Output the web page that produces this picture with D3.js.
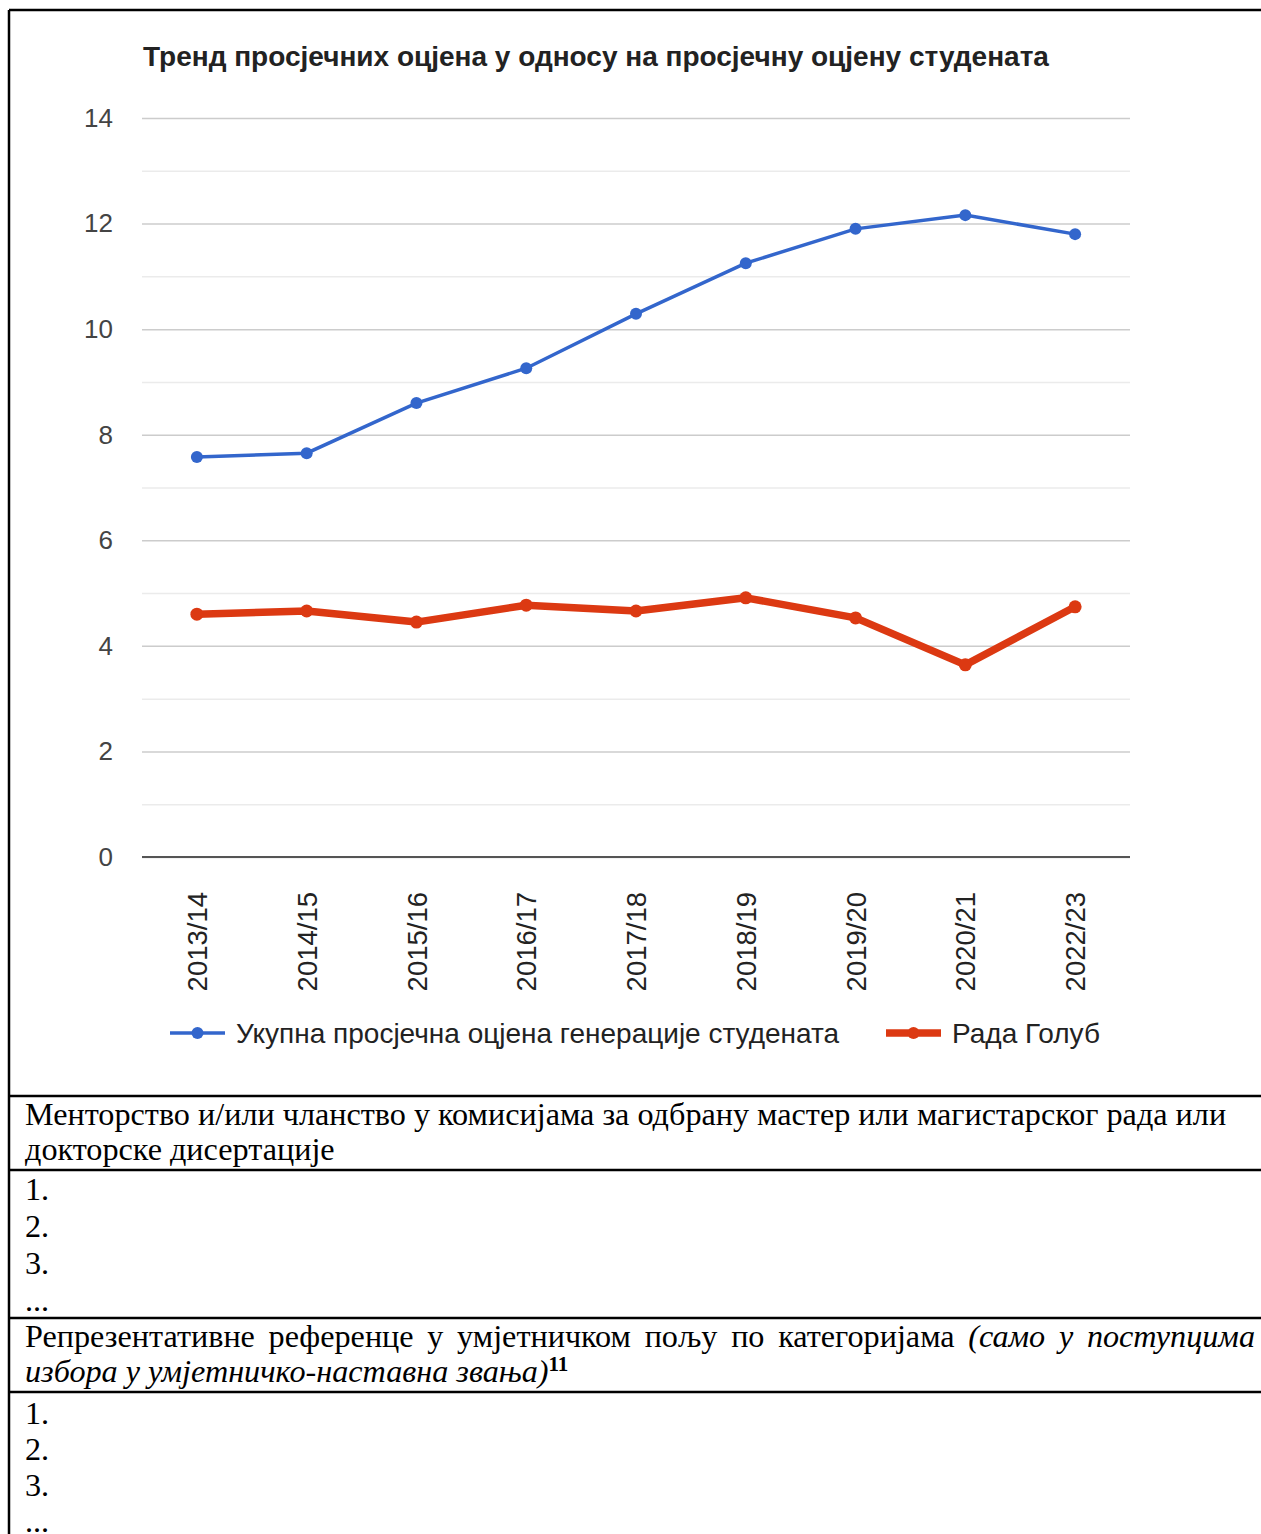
<!DOCTYPE html>
<html>
<head>
<meta charset="utf-8">
<script src="https://cdn.jsdelivr.net/npm/d3@7"></script>
<style>
  body { margin: 0; background: #fff; }
  svg { display: block; }
</style>
</head>
<body>
<script>
// chart values
var seasons = ["2013/14", "2014/15", "2015/16", "2016/17", "2017/18", "2018/19", "2019/20", "2020/21", "2022/23"];
var generationAvg = [7.58, 7.65, 8.60, 9.26, 10.29, 11.25, 11.90, 12.16, 11.80];
var radaGolub = [4.60, 4.66, 4.45, 4.77, 4.66, 4.91, 4.53, 3.64, 4.74];
var majorTicks = [0, 2, 4, 6, 8, 10, 12, 14];
var minorTicks = [1, 3, 5, 7, 9, 11, 13];

var chartTitle = "Тренд просјечних оцјена у односу на просјечну оцјену студената";
var seriesNames = ["Укупна просјечна оцјена генерације студената", "Рада Голуб"];

var svgWidth = 1261;
var svgHeight = 1534;

var svg = d3.select("body")
  .append("svg")
  .attr("width", svgWidth)
  .attr("height", svgHeight);

// plot area
var plot = { left: 142, right: 1130, top: 118, bottom: 857 };

var xScale = d3.scalePoint()
  .domain(seasons)
  .range([plot.left, plot.right])
  .padding(0.5);

var yScale = d3.scaleLinear()
  .domain([0, 14])
  .range([plot.bottom, plot.top]);

var sans = "'Liberation Sans', Arial, sans-serif";
var serif = "'Liberation Serif', 'Times New Roman', serif";

// title
svg.append("text")
  .attr("x", 143)
  .attr("y", 66)
  .attr("font-family", sans)
  .attr("font-weight", "bold")
  .attr("font-size", 28)
  .attr("fill", "#222")
  .text(chartTitle);

// minor gridlines
svg.append("g")
  .attr("transform", "translate(" + plot.left + ",0)")
  .call(d3.axisLeft(yScale).tickValues(minorTicks).tickSize(-(plot.right - plot.left)).tickFormat(""))
  .call(g => g.select(".domain").remove())
  .call(g => g.selectAll("line").attr("stroke", "#ebebeb").attr("stroke-width", 1.5));

// major gridlines + labels
svg.append("g")
  .attr("transform", "translate(" + plot.left + ",0)")
  .call(d3.axisLeft(yScale).tickValues(majorTicks).tickSize(-(plot.right - plot.left)).tickPadding(29))
  .call(g => g.select(".domain").remove())
  .call(g => g.selectAll("line").attr("stroke", "#cccccc").attr("stroke-width", 1.5))
  .call(g => g.selectAll("text")
    .attr("font-family", sans)
    .attr("font-size", 26)
    .attr("fill", "#444"));

// baseline
svg.append("line")
  .attr("x1", plot.left).attr("x2", plot.right)
  .attr("y1", yScale(0)).attr("y2", yScale(0))
  .attr("stroke", "#555").attr("stroke-width", 2);

// x axis labels, rotated
svg.append("g")
  .attr("transform", "translate(0," + plot.bottom + ")")
  .call(d3.axisBottom(xScale).tickSize(0))
  .call(g => g.select(".domain").remove())
  .call(g => g.selectAll("text")
    .attr("font-family", sans)
    .attr("font-size", 27.5)
    .attr("fill", "#222")
    .attr("text-anchor", "end")
    .attr("dy", "0.35em")
    .attr("transform", "translate(0,35) rotate(-90)")
    .attr("y", 0)
    .attr("x", 0));

var lineGen = d3.line()
  .x((d, i) => xScale(seasons[i]))
  .y(d => yScale(d));

// blue series
svg.append("path")
  .datum(generationAvg)
  .attr("fill", "none")
  .attr("stroke", "#3366cc")
  .attr("stroke-width", 3.5)
  .attr("d", lineGen);

svg.append("g").selectAll("circle")
  .data(generationAvg).enter()
  .append("circle")
  .attr("cx", (d, i) => xScale(seasons[i]))
  .attr("cy", d => yScale(d))
  .attr("r", 6)
  .attr("fill", "#3366cc");

// red series
svg.append("path")
  .datum(radaGolub)
  .attr("fill", "none")
  .attr("stroke", "#dc3912")
  .attr("stroke-width", 7.5)
  .attr("stroke-linejoin", "round")
  .attr("d", lineGen);

svg.append("g").selectAll("circle")
  .data(radaGolub).enter()
  .append("circle")
  .attr("cx", (d, i) => xScale(seasons[i]))
  .attr("cy", d => yScale(d))
  .attr("r", 6.5)
  .attr("fill", "#dc3912");

// legend
var legendY = 1033;
var legendItems = [
  { x: 170, color: "#3366cc", width: 3.5, name: seriesNames[0] },
  { x: 886, color: "#dc3912", width: 7.5, name: seriesNames[1] }
];
var legend = svg.append("g").selectAll("g")
  .data(legendItems).enter()
  .append("g")
  .attr("transform", d => "translate(" + d.x + "," + legendY + ")");
legend.append("line")
  .attr("x1", 0).attr("x2", 55)
  .attr("stroke", d => d.color)
  .attr("stroke-width", d => d.width);
legend.append("circle")
  .attr("cx", 27.5)
  .attr("r", 6)
  .attr("fill", d => d.color);
legend.append("text")
  .attr("x", 66)
  .attr("dy", "0.35em")
  .attr("font-family", sans)
  .attr("font-size", 28)
  .attr("fill", "#222")
  .text(d => d.name);

// document table around the chart
var borderColor = "#000";
svg.append("line").attr("x1", 9).attr("x2", svgWidth).attr("y1", 10).attr("y2", 10)
  .attr("stroke", borderColor).attr("stroke-width", 2.5);
svg.append("line").attr("x1", 9).attr("x2", 9).attr("y1", 10).attr("y2", svgHeight)
  .attr("stroke", borderColor).attr("stroke-width", 2.5);
[1096, 1170, 1318, 1392].forEach(function(y) {
  svg.append("line").attr("x1", 9).attr("x2", svgWidth).attr("y1", y).attr("y2", y)
    .attr("stroke", borderColor).attr("stroke-width", 2.5);
});

var mentorHeading = [
  "Менторство и/или чланство у комисијама за одбрану мастер или магистарског рада или",
  "докторске дисертације"
];
var listItems = ["1.", "2.", "3.", "..."];

var tableText = svg.append("g")
  .attr("font-family", serif)
  .attr("font-size", 32.2)
  .attr("fill", "#000");

mentorHeading.forEach(function(t, i) {
  tableText.append("text").attr("x", 25).attr("y", 1125 + i * 35).text(t);
});
listItems.forEach(function(t, i) {
  tableText.append("text").attr("x", 25).attr("y", 1200 + i * 37).text(t);
});

// justified first line of the second heading
var artWords = [
  { t: "Репрезентативне", italic: false },
  { t: "референце", italic: false },
  { t: "у", italic: false },
  { t: "умјетничком", italic: false },
  { t: "пољу", italic: false },
  { t: "по", italic: false },
  { t: "категоријама", italic: false },
  { t: "(само", italic: true },
  { t: "у", italic: true },
  { t: "поступцима", italic: true }
];
var lineLeft = 25, lineRight = 1255;
var wordNodes = artWords.map(function(w) {
  return tableText.append("text")
    .attr("y", 1347)
    .attr("font-style", w.italic ? "italic" : "normal")
    .text(w.t);
});
var widths = wordNodes.map(n => n.node().getComputedTextLength());
var gap = (lineRight - lineLeft - d3.sum(widths)) / (artWords.length - 1);
var cx = lineLeft;
wordNodes.forEach(function(n, i) {
  n.attr("x", cx);
  cx += widths[i] + gap;
});

var second = tableText.append("text").attr("x", 25).attr("y", 1382);
second.append("tspan").attr("font-style", "italic").text("избора у умјетничко-наставна звања)");
second.append("tspan").attr("font-weight", "bold").attr("font-size", 21).attr("dy", -11).text("11");

listItems.forEach(function(t, i) {
  tableText.append("text").attr("x", 25).attr("y", 1424 + i * 36).text(t);
});
</script>
</body>
</html>
